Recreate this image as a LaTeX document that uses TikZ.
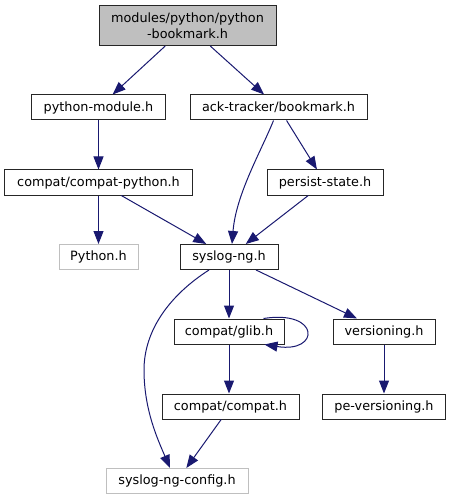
\documentclass[tikz,border=0pt]{standalone}
\usepackage{fontspec}
\setmainfont{DejaVu Sans}
\usetikzlibrary{arrows.meta,calc}
\definecolor{edgeblue}{HTML}{191970}
\definecolor{lgray}{HTML}{BFBFBF}
\tikzset{
  box/.style={draw=black!85, line width=1bp, rectangle, inner sep=0pt, minimum height=25bp, align=center,
    font=\fontsize{12.8bp}{15.5bp}\selectfont},
  ext/.style={box, draw=lgray},
  dep/.style={draw=edgeblue, line width=1bp, -{Triangle[length=13bp,width=10bp]}, fill=none},
}
\begin{document}
\begin{tikzpicture}[x=1bp,y=-1bp]
\useasboundingbox (0,0) rectangle (451,500);
\node[box, fill=lgray, minimum width=177bp, minimum height=40bp] (top) at (187.5,25.5) {modules/python/python\\-bookmark.h};
\node[box, minimum width=133bp] (pym) at (98.5,107.5) {python-module.h};
\node[box, minimum width=177bp] (ack) at (278.5,107.5) {ack-tracker/bookmark.h};
\node[box, minimum width=187bp] (cpy) at (98.5,182.5) {compat/compat-python.h};
\node[box, minimum width=116bp] (pst) at (325,182.5) {persist-state.h};
\node[ext, minimum width=79bp] (pyh) at (98.5,257) {Python.h};
\node[box, minimum width=98bp] (sng) at (229,257) {syslog-ng.h};
\node[box, minimum width=110bp] (glib) at (229,331.5) {compat/glib.h};
\node[box, minimum width=102bp] (ver) at (384,331.5) {versioning.h};
\node[box, minimum width=137bp] (cc) at (230.5,406.5) {compat/compat.h};
\node[box, minimum width=123bp] (pev) at (384,406.5) {pe-versioning.h};
\node[ext, minimum width=142bp] (cfg) at (177,481) {syslog-ng-config.h};

\draw[dep] (top) -- (pym);
\draw[dep] (top) -- (ack);
\draw[dep] (pym) -- (cpy);
\draw[dep] (ack) -- (pst);
\draw[dep] ($(ack.south)+(-5,0)$) .. controls ($(ack.south)+(-17,30)$) and ($(sng.north)+(7,-50)$) .. ($(sng.north)+(3,0)$);
\draw[dep] (cpy) -- (pyh);
\draw[dep] (cpy) -- (sng);
\draw[dep] (pst) -- (sng);
\draw[dep] (sng) -- (glib);
\draw[dep] (sng) -- (ver);
\draw[dep] ($(sng.south)+(-20,0)$) .. controls ($(sng.south)+(-59,25)$) and ($(sng.south)+(-85,60)$) .. ($(sng.south)+(-85,100)$)
   .. controls ($(sng.south)+(-85,140)$) and ($(cfg.north)+(-19,-28)$) .. ($(cfg.north)+(-7,0)$);
\draw[dep] ($(glib.north east)+(-21,0)$) .. controls ($(glib.north east)+(36,-9)$) and ($(glib.south east)+(36,9)$) .. ($(glib.south east)+(-20,0)$);
\draw[dep] (glib.south) -- (glib.south |- cc.north);
\draw[dep] (ver) -- (pev);
\draw[dep] (cc) -- (cfg);
\end{tikzpicture}
\end{document}
